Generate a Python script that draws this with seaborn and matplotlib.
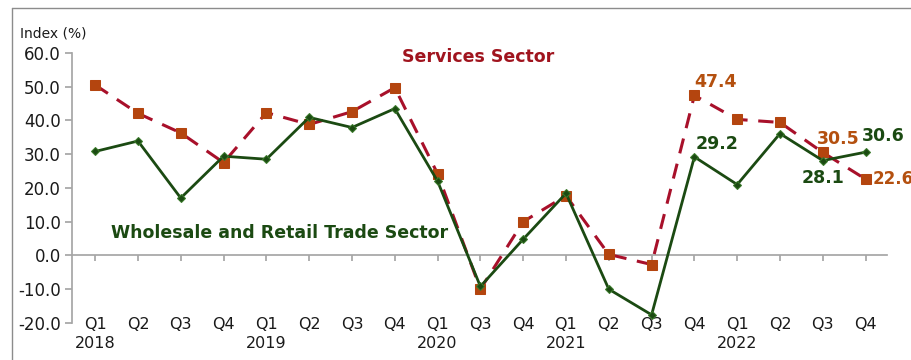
import matplotlib
matplotlib.use("Agg")
import matplotlib.pyplot as plt
import seaborn as sns
import pandas as pd
from matplotlib.lines import Line2D

quarters = ["Q1", "Q2", "Q3", "Q4", "Q1", "Q2", "Q3", "Q4", "Q1", "Q3", "Q4",
            "Q1", "Q2", "Q3", "Q4", "Q1", "Q2", "Q3", "Q4"]
years = ["2018", "", "", "", "2019", "", "", "", "2020", "", "",
         "2021", "", "", "", "2022", "", "", ""]
services = [50.5, 42.1, 36.3, 27.5, 42.3, 38.8, 42.6, 49.7, 24.2, -10.0, 10.0,
            17.7, 0.3, -2.7, 47.4, 40.3, 39.4, 30.5, 22.6]
wholesale = [30.8, 33.9, 17.0, 29.4, 28.5, 40.9, 37.9, 43.5, 22.0, -9.2, 4.8,
             18.4, -10.0, -17.6, 29.2, 21.0, 36.1, 28.1, 30.6]

labels = [q + ("\n" + y if y else "\n") for q, y in zip(quarters, years)]
idx = list(range(len(quarters)))
df = pd.DataFrame({"i": idx, "services": services, "wholesale": wholesale})

sns.set_theme(style="white")
plt.rcParams["font.family"] = ["DejaVu Sans"]

fig = plt.figure(figsize=(9.12, 3.6), dpi=100)
ax = fig.add_axes([0.079, 0.103, 0.8936, 0.75])

svc_line = "#A8102A"
svc_mark = "#B4450F"
grn = "#1B4A12"

sns.lineplot(data=df, x="i", y="services", ax=ax, color=svc_line, lw=2.2,
             linestyle=(0, (5, 3.5)), marker="s", markersize=7.5,
             markerfacecolor=svc_mark, markeredgecolor=svc_mark, zorder=3)
sns.lineplot(data=df, x="i", y="wholesale", ax=ax, color=grn, lw=2.0,
             marker="D", markersize=4.5, markerfacecolor=grn,
             markeredgecolor="#3a7a2a", zorder=4)

ax.set_ylim(-20, 60)
ax.set_xlim(-0.54, 18.5)
ax.set_yticks(range(-20, 61, 10))
ax.set_yticklabels([f"{v:.1f}" for v in range(-20, 61, 10)])
ax.set_xlabel("")
ax.set_ylabel("")

for s in ["top", "right"]:
    ax.spines[s].set_visible(False)
ax.spines["left"].set_color("#A6A6A6")
ax.spines["bottom"].set_color("#A6A6A6")
ax.spines["bottom"].set_position(("data", 0))
ax.tick_params(axis="y", left=True, length=5, color="#A6A6A6", labelsize=12,
               labelcolor="#1a1a1a", pad=3)
ax.set_xticks(idx)
ax.tick_params(axis="x", bottom=True, length=4, color="#A6A6A6", labelbottom=False)

sec = ax.secondary_xaxis(0.0)
sec.set_xticks(idx)
sec.set_xticklabels(labels)
sec.tick_params(axis="x", length=0, labelsize=11.5, labelcolor="#1a1a1a", pad=-4)
sec.spines["bottom"].set_visible(False)
for t in sec.get_xticklabels():
    t.set_linespacing(1.3)

fig.text(0.022, 0.895, "Index (%)", fontsize=10, color="#1a1a1a")
ax.text(0.498, 0.985, "Services Sector", transform=ax.transAxes, ha="center",
        va="center", fontsize=12.5, fontweight="bold", color="#A0141E")
ax.text(0.255, 0.333, "Wholesale and Retail Trade Sector", transform=ax.transAxes,
        ha="center", va="center", fontsize=12.5, fontweight="bold", color=grn)

ann = dict(fontsize=12.5, fontweight="bold")
ax.annotate(f"{services[14]:.1f}", (14, services[14]), xytext=(0, 3),
            textcoords="offset points", ha="left", va="bottom", color="#B4500F", **ann)
ax.annotate(f"{wholesale[14]:.1f}", (14, wholesale[14]), xytext=(1, 3),
            textcoords="offset points", ha="left", va="bottom", color=grn, **ann)
ax.annotate(f"{services[17]:.1f}", (17, services[17]), xytext=(-4, 3),
            textcoords="offset points", ha="left", va="bottom", color="#B4500F", **ann)
ax.annotate(f"{wholesale[17]:.1f}", (17, wholesale[17]), xytext=(0, -6),
            textcoords="offset points", ha="center", va="top", color=grn, **ann)
ax.annotate(f"{wholesale[18]:.1f}", (18, wholesale[18]), xytext=(-3, 5),
            textcoords="offset points", ha="left", va="bottom", color=grn, **ann)
ax.annotate(f"{services[18]:.1f}", (18, services[18]), xytext=(5, 0),
            textcoords="offset points", ha="left", va="center", color="#B4500F",
            fontsize=12, fontweight="bold")

border = "#8C8C8C"
fig.add_artist(Line2D([12 / 912, 1.0], [1 - 8 / 360, 1 - 8 / 360],
                      transform=fig.transFigure, color=border, lw=1))
fig.add_artist(Line2D([12 / 912, 12 / 912], [0.0, 1 - 8 / 360],
                      transform=fig.transFigure, color=border, lw=1))

fig.savefig("out.png", dpi=100)
